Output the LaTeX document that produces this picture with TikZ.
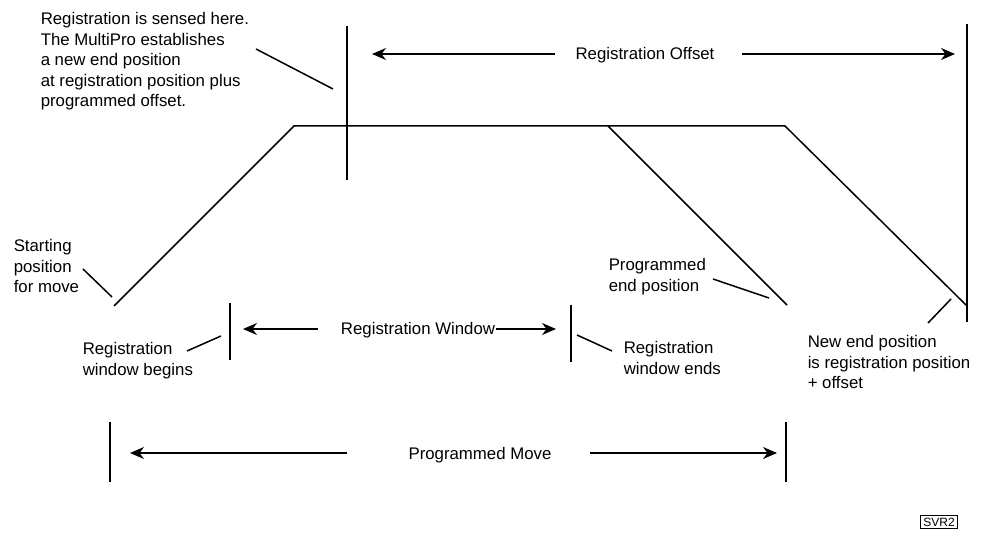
\documentclass[tikz,border=0pt]{standalone}
\usepackage{fontspec}
\setmainfont{Liberation Sans}
\usetikzlibrary{positioning, arrows.meta}

\begin{document}
\begin{tikzpicture}[x=1pt, y=-1pt, line width=1.5pt,
    txt/.style={font=\fontsize{16.8}{20.4}\selectfont, inner sep=0pt},
    note/.style={txt, align=left, anchor=base west},
    dimarrow/.style={-{Stealth[length=14pt, width=12pt, inset=4.5pt]}},
    tag/.style={draw, line width=0.9pt, font=\fontsize{12}{14}\selectfont, inner sep=2.5pt}]
    \useasboundingbox (0,0) rectangle (982,534);

    % Motion profile
    \coordinate (startPos) at (114,306);
    \coordinate (accelEnd) at (294,126);
    \coordinate (decelA) at (608,126);
    \coordinate (progEnd) at (787,305);
    \coordinate (decelB) at (785,126);
    \coordinate (newEnd) at (966,305);
    \draw (startPos) -- (accelEnd) -- (decelB) -- (newEnd);
    \draw (decelA) -- (progEnd);

    % Marker lines
    \coordinate (senseTop) at (347,26);   \coordinate (senseBot) at (347,180);
    \coordinate (newTop) at (967,24);     \coordinate (newBot) at (967,322);
    \coordinate (winBTop) at (230,303);   \coordinate (winBBot) at (230,360);
    \coordinate (winETop) at (571,305);   \coordinate (winEBot) at (571,362);
    \coordinate (moveLTop) at (110,422);  \coordinate (moveLBot) at (110,482);
    \coordinate (moveRTop) at (786,422);  \coordinate (moveRBot) at (786,482);
    \draw (senseTop) -- (senseBot);
    \draw (newTop) -- (newBot);
    \draw (winBTop) -- (winBBot);
    \draw (winETop) -- (winEBot);
    \draw (moveLTop) -- (moveLBot);
    \draw (moveRTop) -- (moveRBot);

    % Dimension labels and arrows
    \node[txt, anchor=base] (offsetLbl) at (645,60) {Registration Offset};
    \node[txt, anchor=base] (windowLbl) at (418,335) {Registration Window};
    \node[txt, anchor=base] (moveLbl) at (480,459) {Programmed Move};

    \coordinate (offL0) at (555,54);   \coordinate (offL) at (372,54);
    \coordinate (offR0) at (742,54);   \coordinate (offR) at (955,54);
    \draw[dimarrow] (offL0) -- (offL);
    \draw[dimarrow] (offR0) -- (offR);

    \coordinate (winL0) at (318,329);  \coordinate (winL) at (243,329);
    \coordinate (winR) at (556,329);
    \draw[dimarrow] (winL0) -- (winL);
    \draw[dimarrow] (windowLbl.east |- winR) -- (winR);

    \coordinate (movL0) at (347,453);  \coordinate (movL) at (130,453);
    \coordinate (movR0) at (590,453);  \coordinate (movR) at (777,453);
    \draw[dimarrow] (movL0) -- (movL);
    \draw[dimarrow] (movR0) -- (movR);

    % Callouts (placed at the baseline of their last line)
    \node[note] (sensed) at (40,106.6) {Registration is sensed here.\\The MultiPro establishes\\a new end position\\at registration position plus\\programmed offset.};
    \node[note] (starting) at (13,292.8) {Starting\\position\\for move};
    \node[note] (winBegins) at (82,375.4) {Registration\\window begins};
    \node[note] (winEnds) at (623,374.4) {Registration\\window ends};
    \node[note] (progEndLbl) at (608,291.4) {Programmed\\end position};
    \node[note] (newEndLbl) at (807,388.8) {New end position\\is registration position\\+ offset};

    \coordinate (sensedTip) at (333,89);
    \coordinate (startTip) at (112,297);
    \coordinate (beginTip) at (221,336);
    \coordinate (endTip) at (577,335);
    \coordinate (progTip) at (769,298);
    \coordinate (newTip) at (951,299);
    \draw (256,49) -- (sensedTip);
    \draw (83,269) -- (startTip);
    \draw (187,351) -- (beginTip);
    \draw (612,351) -- (endTip);
    \draw (713,279) -- (progTip);
    \draw (928,323) -- (newTip);

    \node[tag] (svr) at (939,522) {SVR2};
\end{tikzpicture}
\end{document}
